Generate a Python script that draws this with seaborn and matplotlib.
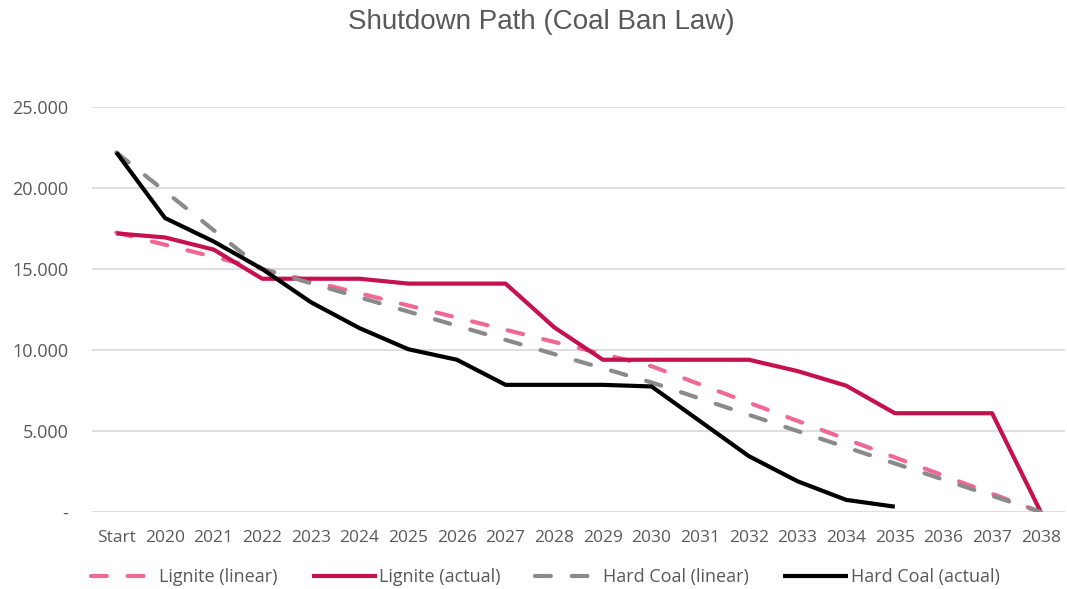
import matplotlib
matplotlib.use("Agg")
import matplotlib.pyplot as plt
import seaborn as sns
import pandas as pd
import numpy as np

# categories on the x axis
years = ['Start', '2020', '2021', '2022', '2023', '2024', '2025', '2026', '2027', '2028',
         '2029', '2030', '2031', '2032', '2033', '2034', '2035', '2036', '2037', '2038']

# capacity in MW
lignite_linear = [17250, 16500, 15750, 15000, 14250, 13500, 12750, 12000, 11250, 10500,
                  9750, 9000, 7875, 6750, 5625, 4500, 3375, 2250, 1125, 0]
lignite_actual = [17200, 16950, 16200, 14400, 14400, 14400, 14100, 14100, 14100, 11400,
                  9400, 9400, 9400, 9400, 8700, 7800, 6100, 6100, 6100, 0]
hardcoal_linear = [22200, 19800, 17400, 15000, 14125, 13250, 12375, 11500, 10625, 9750,
                   8875, 8000, 7000, 6000, 5000, 4000, 3000, 2000, 1000, 0]
hardcoal_actual = [22200, 18150, 16700, 15000, 12950, 11350, 10050, 9400, 7850, 7850,
                   7850, 7750, 5600, 3450, 1900, 750, 330, np.nan, np.nan, np.nan]

series = [
    ('Lignite (linear)', lignite_linear, '#EE6A95', True),
    ('Lignite (actual)', lignite_actual, '#C5114E', False),
    ('Hard Coal (linear)', hardcoal_linear, '#8A8A8A', True),
    ('Hard Coal (actual)', hardcoal_actual, '#000000', False),
]

sns.set_style('white')
plt.rcParams['font.family'] = ['Open Sans', 'DejaVu Sans']
txt = '#595959'

fig = plt.figure(figsize=(10.67, 5.89), dpi=100)
ax = fig.add_axes([0.0862, 0.1307, 0.912, 0.6876])

for name, vals, col, dashed in series:
    df = pd.DataFrame({'year': years, 'mw': vals}).dropna()
    sns.lineplot(data=df, x='year', y='mw', ax=ax, color=col, lw=3.0, label=name,
                 sort=False, dashes=False)
    line = ax.lines[-1]
    if dashed:
        line.set_dashes((3.8, 5.0))
        line.set_dash_capstyle('round')
    else:
        line.set_solid_capstyle('butt')

ax.set_xlim(-0.5, len(years) - 0.5)
ax.set_ylim(0, 25000)
ax.set_yticks(range(0, 25001, 5000))
ax.yaxis.set_major_formatter(
    matplotlib.ticker.FuncFormatter(lambda v, p: '-' if v == 0 else f'{int(v):,}'.replace(',', '.')))
ax.grid(axis='y', color='#d9d9d9', lw=1.2)
ax.grid(axis='x', visible=False)
ax.set_axisbelow(True)
for s in ax.spines.values():
    s.set_visible(False)
ax.tick_params(axis='both', length=0, colors=txt)
ax.tick_params(axis='y', pad=17, labelsize=13)
ax.tick_params(axis='x', pad=13, labelsize=12.5)
ax.set_xlabel('')
ax.set_ylabel('')

ax.get_legend().remove()
handles, labels = ax.get_legend_handles_labels()
fig.legend(handles, labels, loc='center', bbox_to_anchor=(0.511, 1 - 577 / 589), ncol=4,
           frameon=False, handlelength=3.6, columnspacing=1.9, handletextpad=0.15,
           fontsize=13, labelcolor=txt)

fig.text(0.507, 1 - 22 / 589, 'Shutdown Path (Coal Ban Law)', ha='center', va='center',
         fontsize=20, color=txt, family='Liberation Sans')

fig.savefig('out.png', dpi=100)
